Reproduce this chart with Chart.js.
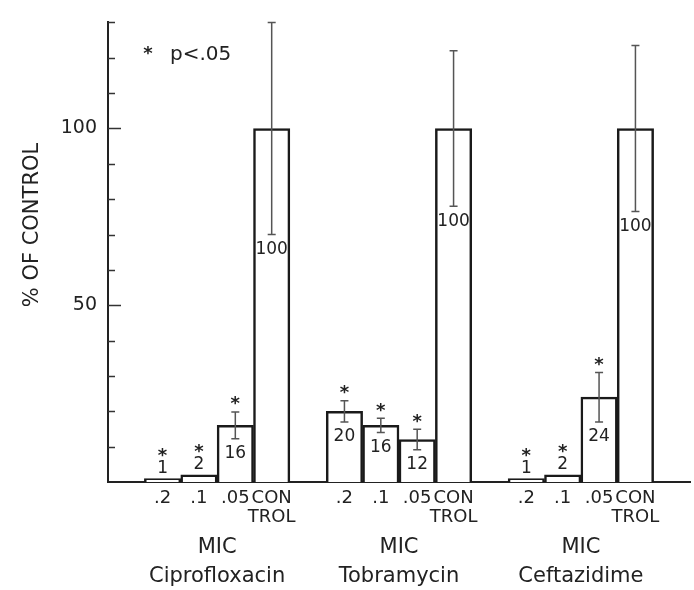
<!DOCTYPE html>
<html><head><meta charset="utf-8">
<script src="https://cdn.jsdelivr.net/npm/chart.js@4.4.0/dist/chart.umd.min.js"></script>
<style>html,body{margin:0;padding:0;background:#fff}#wrap{width:694px;height:590px}</style>
</head><body><div id="wrap"><canvas id="c" width="694" height="590"></canvas></div>
<script>
// ---- data ----
const drugs = ['Ciprofloxacin', 'Tobramycin', 'Ceftazidime'];
const groupTitle = 'MIC';
const doseLabels = ['.2', '.1', '.05', ['CON', 'TROL']];
const ciproValues = [1, 2, 16, 100];
const tobraValues = [20, 16, 12, 100];
const ceftValues = [1, 2, 24, 100];
const ciproErrors = [0, 0, 3.8, 30];
const tobraErrors = [3, 2, 2.9, 22];
const ceftErrors = [0, 0, 7, 23.5];
const ciproSignif = [true, true, true, false];
const tobraSignif = [true, true, true, false];
const ceftSignif = [true, true, true, false];
const yTickLabels = [50, 100];
const yMin = 0, yMax = 130, yStep = 10;
const yTitle = '% OF CONTROL';
const legendText = 'p<.05';

// ---- build slots (blank slot between groups) ----
const groupValues = [ciproValues, tobraValues, ceftValues];
const groupErrors = [ciproErrors, tobraErrors, ceftErrors];
const groupSignif = [ciproSignif, tobraSignif, ceftSignif];
const slotLabels = [''], slotValues = [null], slotErrors = [0], slotSignif = [false];
const groupSlots = [];
groupValues.forEach((vals, g) => {
  const idx = [];
  vals.forEach((v, k) => {
    idx.push(slotLabels.length);
    slotLabels.push(doseLabels[k]);
    slotValues.push(v);
    slotErrors.push(groupErrors[g][k]);
    slotSignif.push(groupSignif[g][k]);
  });
  groupSlots.push(idx);
  slotLabels.push(''); slotValues.push(null); slotErrors.push(0); slotSignif.push(false);
});

const FONT = 'DejaVu Sans';
const INK = '#222222';

function drawStar(ctx, x, cy, size) {
  ctx.save();
  ctx.font = 'bold ' + size + 'px "' + FONT + '"';
  ctx.textAlign = 'center';
  ctx.textBaseline = 'alphabetic';
  const m = ctx.measureText('*');
  const off = (m.actualBoundingBoxAscent - m.actualBoundingBoxDescent) / 2;
  ctx.fillText('*', x, cy + off);
  ctx.restore();
}

const annot = {
  id: 'annot',
  afterDraw(chart) {
    const ctx = chart.ctx;
    const ys = chart.scales.y;
    const meta = chart.getDatasetMeta(0);
    const area = chart.chartArea;
    ctx.save();
    ctx.fillStyle = INK;
    ctx.strokeStyle = '#333';
    // inward y tick marks
    ctx.lineWidth = 1.5;
    for (let v = yMin + yStep; v <= yMax; v += yStep) {
      const y = Math.round(ys.getPixelForValue(v)) + 0.5;
      const len = (v % 50 === 0) ? 13 : 7;
      ctx.beginPath(); ctx.moveTo(area.left, y); ctx.lineTo(area.left + len, y); ctx.stroke();
    }
    // error bars, stars, value labels
    slotValues.forEach((v, i) => {
      if (v === null) return;
      const x = meta.data[i].x;
      const e = slotErrors[i];
      const yTop = ys.getPixelForValue(v);
      if (e > 0) {
        const yHi = ys.getPixelForValue(v + e), yLo = ys.getPixelForValue(v - e);
        ctx.strokeStyle = '#555'; ctx.lineWidth = 1.5;
        ctx.beginPath();
        ctx.moveTo(x, yHi); ctx.lineTo(x, yLo);
        ctx.moveTo(x - 4, yHi); ctx.lineTo(x + 4, yHi);
        ctx.moveTo(x - 4, yLo); ctx.lineTo(x + 4, yLo);
        ctx.stroke();
      }
      let labelY, starY;
      if (e > 0) { labelY = ys.getPixelForValue(v - e) + 15; starY = ys.getPixelForValue(v + e) - 11; }
      else { labelY = yTop - 10; starY = yTop - 26; }
      ctx.font = '17px "' + FONT + '"';
      ctx.textAlign = 'center'; ctx.textBaseline = 'middle';
      ctx.fillStyle = INK;
      ctx.fillText(String(v), x, labelY);
      if (slotSignif[i]) drawStar(ctx, x, starY, 18);
    });
    // legend note
    drawStar(ctx, 148, 50, 18);
    ctx.font = '20px "' + FONT + '"';
    ctx.textAlign = 'left'; ctx.textBaseline = 'alphabetic';
    ctx.fillText(legendText, 170, 60);
    // group labels
    ctx.textAlign = 'center';
    groupSlots.forEach((idx, g) => {
      const cx = (meta.data[idx[0]].x + meta.data[idx[idx.length - 1]].x) / 2;
      ctx.font = '21px "' + FONT + '"';
      ctx.fillText(groupTitle, cx, 553);
      ctx.fillText(drugs[g], cx, 582);
    });
    // y title
    ctx.save();
    ctx.translate(33, 225);
    ctx.rotate(-Math.PI / 2);
    ctx.font = '21px "' + FONT + '"';
    ctx.textAlign = 'center'; ctx.textBaseline = 'middle';
    ctx.fillText(yTitle, 0, 0);
    ctx.restore();
    ctx.restore();
  }
};

new Chart(document.getElementById('c').getContext('2d'), {
  type: 'bar',
  data: {
    labels: slotLabels,
    datasets: [{
      data: slotValues,
      backgroundColor: '#ffffff',
      borderColor: '#1a1a1a',
      borderWidth: 2.5,
      borderSkipped: 'bottom',
      barPercentage: 1,
      categoryPercentage: 1
    }]
  },
  options: {
    responsive: false,
    animation: false,
    devicePixelRatio: 1,
    layout: { padding: { top: 11, right: 4, left: 0, bottom: 0 } },
    plugins: { legend: { display: false }, tooltip: { enabled: false } },
    scales: {
      x: {
        grid: { display: false, drawTicks: false },
        border: { display: true, color: '#222', width: 2 },
        ticks: { font: { family: FONT, size: 18, lineHeight: 1.1 }, color: INK, padding: 6,
                 maxRotation: 0, minRotation: 0, autoSkip: false },
        afterFit: s => { s.height = 108; }
      },
      y: {
        min: yMin, max: yMax,
        grid: { display: false, drawTicks: false },
        border: { display: true, color: '#222', width: 2 },
        ticks: { stepSize: yStep, callback: v => yTickLabels.includes(v) ? String(v) : '',
                 font: { family: FONT, size: 19 }, color: INK, padding: 11 },
        afterFit: s => { s.width = 108; }
      }
    }
  },
  plugins: [annot]
});
</script>
</body></html>
